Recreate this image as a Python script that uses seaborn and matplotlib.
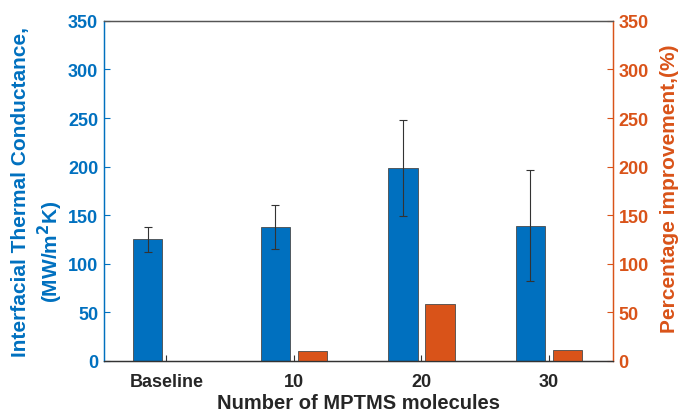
import numpy as np
import pandas as pd
import matplotlib
matplotlib.use("Agg")
import matplotlib.pyplot as plt
import seaborn as sns

categories = ["Baseline", "10", "20", "30"]
itc_values = [125, 138, 199, 139]
itc_errors = [12.5, 22.5, 49.5, 57]
improvement_values = [0, 10.4, 59, 11.2]

BLUE = "#0070BF"
ORANGE = "#D95319"

sns.set_theme(style="white")
plt.rcParams["font.family"] = ["Liberation Sans", "DejaVu Sans"]
plt.rcParams["font.weight"] = "bold"
plt.rcParams["mathtext.default"] = "bf"

n = len(categories)
df_itc = pd.DataFrame({"cat": categories * 2,
                       "value": itc_values + [np.nan] * n,
                       "series": ["ITC"] * n + ["Improvement"] * n})
df_imp = pd.DataFrame({"cat": categories * 2,
                       "value": [np.nan] * n + improvement_values,
                       "series": ["ITC"] * n + ["Improvement"] * n})
hue_order = ["ITC", "Improvement"]
pal = {"ITC": BLUE, "Improvement": ORANGE}

fig = plt.figure(figsize=(6.78, 4.14), dpi=100)
ax1 = fig.add_axes([0.153, 0.126, 0.904 - 0.153, 0.947 - 0.126])
ax2 = ax1.twinx()

common = dict(x="cat", y="value", hue="series", hue_order=hue_order, order=categories,
              palette=pal, width=0.584, gap=0.21, dodge=True, saturation=1,
              edgecolor="#4a4a4a", linewidth=0.6, legend=False)
sns.barplot(data=df_itc, ax=ax1, **common)
sns.barplot(data=df_imp, ax=ax2, **common)

# error bars at the centers of the blue bars
bars = [p for p in ax1.patches if np.isfinite(p.get_height()) and p.get_height() > 0]
bars = sorted(bars, key=lambda p: p.get_x())
xc = [p.get_x() + p.get_width() / 2 for p in bars]
hts = [p.get_height() for p in bars]
ax1.errorbar(xc, hts, yerr=itc_errors, fmt="none", ecolor="#333333",
             elinewidth=0.8, capsize=3, capthick=0.8, zorder=5)

for ax in (ax1, ax2):
    ax.set_ylim(0, 350)
    ax.set_yticks(np.arange(0, 351, 50))
    ax.set_xlim(-0.49, 3.5)

ax1.set_xlabel("Number of MPTMS molecules", fontsize=14.5, fontweight="bold", color="#262626")
ax1.xaxis.set_label_coords(0.5, -0.094)
ax1.xaxis.label.set_va("top")
ax1.set_ylabel("Interfacial Thermal Conductance,", fontsize=15, fontweight="bold", color=BLUE)
ax1.yaxis.set_label_coords(-0.145, 0.5)
ax1.text(-0.104, 0.325, "(MW/m$^{2}$K)", transform=ax1.transAxes, rotation=90,
         ha="center", va="center", fontsize=15, fontweight="bold", color=BLUE)
ax2.set_ylabel("Percentage improvement,(%)", fontsize=15, fontweight="bold", color=ORANGE)
ax2.yaxis.set_label_coords(1.093, 0.51)
ax2.set_xlabel("")

ax1.tick_params(axis="y", direction="in", length=4, width=0.8, colors=BLUE, labelsize=13, pad=4, left=True)
ax1.tick_params(axis="x", direction="in", length=4, width=0.8, colors="#333333", labelsize=13, pad=9, bottom=True)
ax2.tick_params(axis="y", direction="in", length=4, width=0.8, colors=ORANGE, labelsize=13, pad=4, right=True)
for lab in ax1.get_xticklabels() + ax1.get_yticklabels() + ax2.get_yticklabels():
    lab.set_fontweight("bold")
for lab in ax1.get_xticklabels():
    lab.set_color("#262626")

for ax in (ax1, ax2):
    ax.spines["left"].set_color(BLUE)
    ax.spines["right"].set_color(ORANGE)
    ax.spines["top"].set_color("#555555")
    ax.spines["bottom"].set_color("#333333")
    for s in ax.spines.values():
        s.set_linewidth(0.9)
ax1.grid(False)
ax2.grid(False)

fig.savefig("out.png", dpi=100)
